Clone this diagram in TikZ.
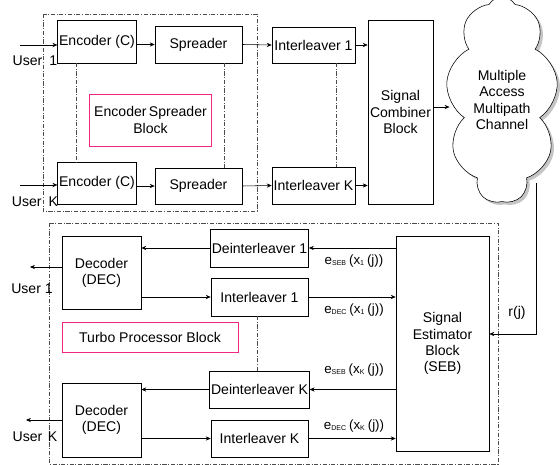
\documentclass[tikz,border=0pt]{standalone}
\usepackage{fontspec}
\setmainfont{Liberation Sans}
\usetikzlibrary{arrows.meta, positioning, shapes.symbols, shadows}

\definecolor{tagpink}{RGB}{240,40,130}

\begin{document}
\begin{tikzpicture}[
    x=0.025cm, y=-0.025cm,
    font=\fontsize{10}{11.5}\selectfont,
    block/.style={rectangle, draw, inner sep=1pt, align=center},
    tag/.style={rectangle, draw=tagpink, semithick, align=center},
    arrow/.style={-{Stealth[length=3.5pt, width=3pt]}, thin},
    dashdot/.style={draw=black!70, dash pattern=on 3pt off 1.2pt on 0.6pt off 1.2pt},
    lbl/.style={font=\fontsize{9.5}{10}\selectfont, inner sep=0pt}
]
\useasboundingbox (0,0) rectangle (560,465);

% Transmitter side
\node[block, minimum width=1.95cm, minimum height=1.075cm] (enc1) at (97,41.5) {Encoder (C)};
\node[block, minimum width=2.175cm, minimum height=0.925cm] (spr1) at (198.5,44.5) {Spreader};
\node[block, minimum width=2.075cm, minimum height=0.9cm] (int1) at (313.5,45) {Interleaver 1};
\node[block, minimum width=1.95cm, minimum height=1.05cm] (encK) at (97,183) {Encoder (C)};
\node[block, minimum width=2.175cm, minimum height=0.9cm] (sprK) at (198.5,186) {Spreader};
\node[block, minimum width=2.075cm, minimum height=0.925cm] (intK) at (313.5,185.5) {Interleaver K};
\node[block, minimum width=1.625cm, minimum height=4.6cm] (comb) at (400.5,112) {Signal\\Combiner\\Block};
\node[tag, minimum width=3.025cm, minimum height=1.3cm] (esb) at (150.5,120) {Encoder\,Spreader\\Block};
\node[cloud, draw, cloud puffs=9, cloud puff arc=120, cloud ignores aspect,
      minimum width=2.8cm, minimum height=5.15cm, inner sep=0pt, align=center,
      drop shadow={shadow xshift=2pt, shadow yshift=-2pt, fill=black!45}, fill=white] (chan) at (502,100) {Multiple\\Access\\Multipath\\Channel};

% Receiver side
\node[block, minimum width=1.975cm, minimum height=1.825cm] (dec1) at (101.5,272.5) {Decoder\\(DEC)};
\node[block, minimum width=2.425cm, minimum height=0.95cm] (deint1) at (259.5,248) {Deinterleaver 1};
\node[block, minimum width=2.425cm, minimum height=0.95cm] (intl1) at (259.5,297) {Interleaver 1};
\node[tag, minimum width=4.4cm, minimum height=0.75cm] (tpb) at (150,337) {Turbo Processor Block};
\node[block, minimum width=2.425cm, minimum height=0.925cm] (deintK) at (259.5,389.5) {Deinterleaver K};
\node[block, minimum width=1.975cm, minimum height=1.85cm] (decK) at (101.5,420) {Decoder\\(DEC)};
\node[block, minimum width=2.425cm, minimum height=0.925cm] (intlK) at (259.5,438.5) {Interleaver K};
\node[block, minimum width=2.325cm, minimum height=5.375cm] (seb) at (442.5,343.5) {Signal\\Estimator\\Block\\(SEB)};

% Frames
\draw[dashdot] (43,14) rectangle (257,211);
\draw[dashdot] (49,223) rectangle (498,464);
\draw[dashdot] (76,63) -- (76,162);
\draw[dashdot] (224,63) -- (224,168);
\draw[dashdot] (336,63) -- (336,167);
\draw[dashdot] (257,316) -- (257,371);

% User inputs and outputs
\coordinate (in1) at (20,45);
\coordinate (inK) at (20,185);
\coordinate (out1) at (30,267);
\coordinate (outK) at (26,420);
\node (u1) at (35,61) {User\hspace{5pt}1};
\node (uK) at (35,202) {User\hspace{5pt}K};
\node (v1) at (32,289) {User 1};
\node (vK) at (35,437) {User\hspace{4pt}K};

\draw[arrow] (in1) -- (in1 -| enc1.west);
\draw[arrow] (inK) -- (inK -| encK.west);
\draw[arrow] (enc1.east |- spr1) -- (spr1.west);
\draw[arrow] (encK.east |- sprK) -- (sprK.west);
\draw[arrow] (spr1.east) -- (int1.west);
\draw[arrow] (sprK.east) -- (intK.west);
\draw[arrow] (int1.east) -- (int1.east -| comb.west);
\draw[arrow] (intK.east) -- (intK.east -| comb.west);
\draw[arrow] (comb.east |- 0,107) -- (chan.west |- 0,107);

% Turbo loop
\draw[arrow] (seb.west |- deint1) -- (deint1.east);
\draw[arrow] (deint1.west) -- (deint1.west -| dec1.east);
\draw[arrow] (dec1.east |- intl1) -- (intl1.west);
\draw[arrow] (intl1.east) -- (intl1.east -| seb.west);
\draw[arrow] (seb.west |- deintK) -- (deintK.east);
\draw[arrow] (deintK.west) -- (deintK.west -| decK.east);
\draw[arrow] (decK.east |- intlK) -- (intlK.west);
\draw[arrow] (intlK.east) -- (intlK.east -| seb.west);
\draw[arrow] (dec1.west |- out1) -- (out1);
\draw[arrow] (decK.west |- outK) -- (outK);

% Received signal
\coordinate (rturn) at (536,334);
\draw[arrow] (rturn |- 0,183) -- (rturn) -- (seb.east |- rturn);
\node (rj) at (517,313) {r(j)};

% Extrinsic labels
\node[lbl] (l1) at (354,261) {e\textsubscript{\tiny SEB}\,(x\textsubscript{\tiny 1}\,(j))};
\node[lbl] (l2) at (354,310) {e\textsubscript{\tiny DEC}\,(x\textsubscript{\tiny 1}\,(j))};
\node[lbl] (l3) at (354,370) {e\textsubscript{\tiny SEB}\,(x\textsubscript{\tiny K}\,(j))};
\node[lbl] (l4) at (354,426) {e\textsubscript{\tiny DEC}\,(x\textsubscript{\tiny K}\,(j))};

\end{tikzpicture}
\end{document}
